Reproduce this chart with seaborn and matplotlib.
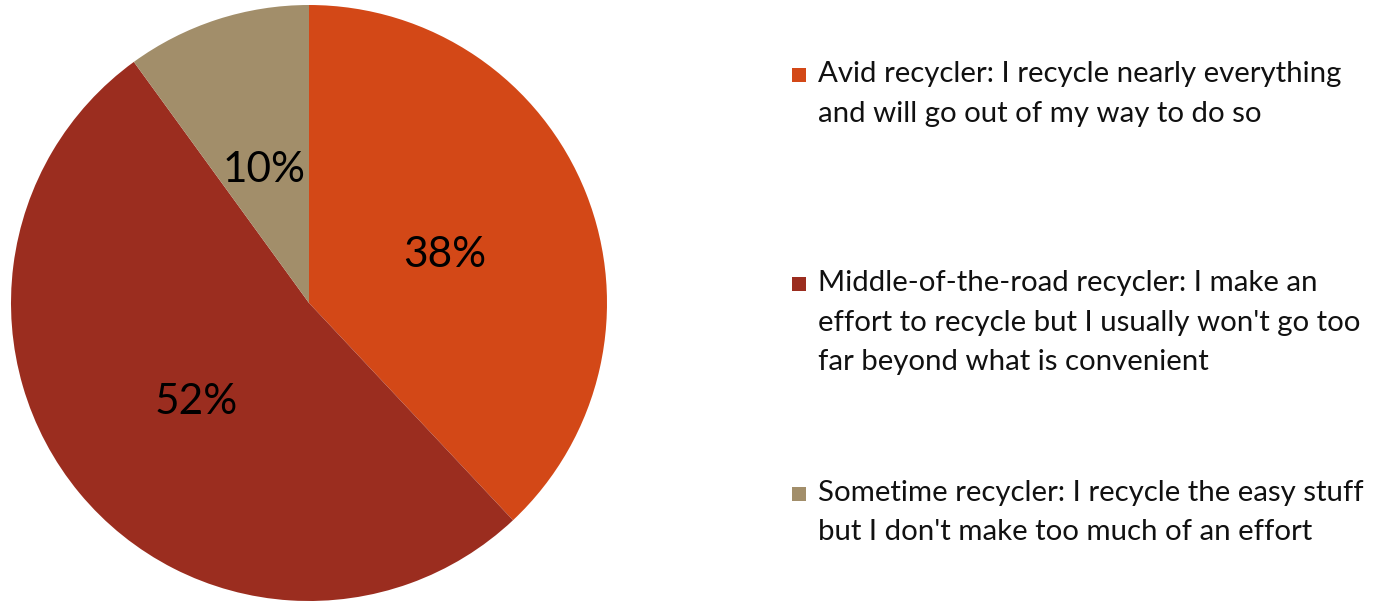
import matplotlib
matplotlib.use("Agg")
import matplotlib.pyplot as plt
from matplotlib.patches import Rectangle
import seaborn as sns

categories = [
    "Avid recycler: I recycle nearly everything\nand will go out of my way to do so",
    "Middle-of-the-road recycler: I make an\neffort to recycle but I usually won't go too\nfar beyond what is convenient",
    "Sometime recycler: I recycle the easy stuff\nbut I don't make too much of an effort",
]
values = [38, 52, 10]
colors = ["#D34817", "#9B2D1F", "#A28E6A"]

sns.set_theme(style="white")
plt.rcParams["font.family"] = ["Lato", "DejaVu Sans"]

W, H = 1383, 601
fig = plt.figure(figsize=(W / 100, H / 100), dpi=100)
fig.patch.set_facecolor("white")

cx, cy, r = 309, 303, 298
ax = fig.add_axes([(cx - r) / W, (H - cy - r) / H, 2 * r / W, 2 * r / H])
wedges, texts, autotexts = ax.pie(
    values, colors=colors, startangle=90, counterclock=False,
    autopct=lambda p: f"{p:.0f}%", pctdistance=0.49, radius=1,
    wedgeprops=dict(linewidth=0),
    textprops=dict(fontsize=30.5, color="black"),
)
for t in autotexts:
    x, y = t.get_position()
    t.set_position((x, y - 0.02))
ax.set_xlim(-1, 1)
ax.set_ylim(-1, 1)
ax.set_aspect("equal")
ax.axis("off")

first_line_y = [74, 283, 493]
line_step = 39.5
for lab, col, y0 in zip(categories, colors, first_line_y):
    fig.add_artist(Rectangle(((792) / W, (H - y0 - 8) / H), 14 / W, 14 / H,
                             transform=fig.transFigure, color=col, linewidth=0))
    for i, line in enumerate(lab.split("\n")):
        fig.text(818 / W, (H - (y0 + i * line_step)) / H, line,
                 fontsize=21.2, color="#111111", ha="left", va="center")

fig.savefig("out.png", dpi=100)
